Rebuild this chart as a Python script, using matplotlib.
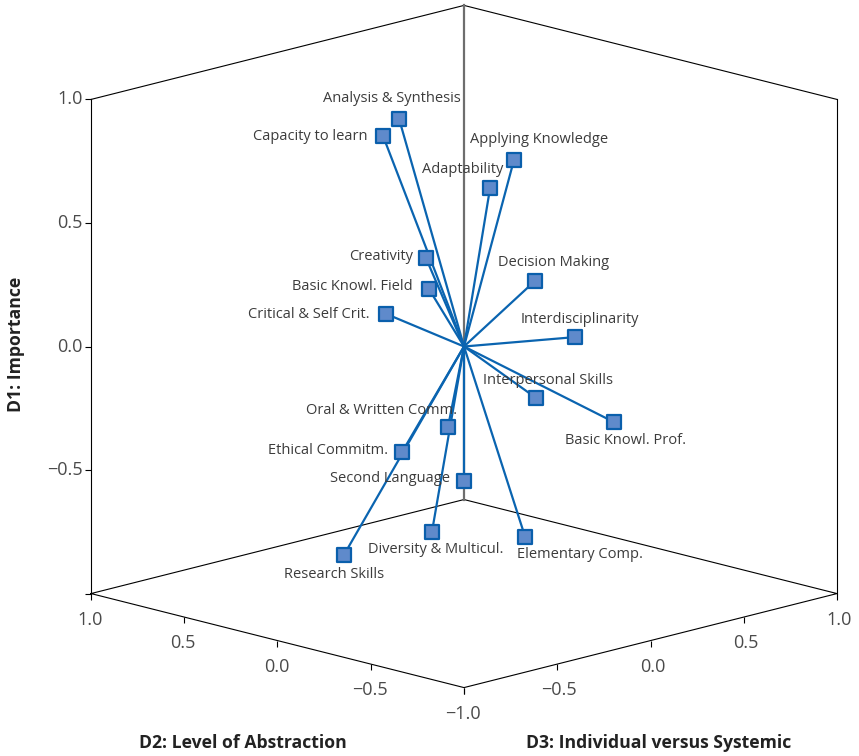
# 3D plot of competences on three dimensions (D1, D2, D3)

import numpy as np
import matplotlib.pyplot as plt
from matplotlib.markers import MarkerStyle, TICKLEFT, TICKDOWN
from mpl_toolkits.mplot3d import proj3d

# competence loadings
competences = ["Analysis & Synthesis", "Capacity to learn", "Applying Knowledge",
               "Adaptability", "Creativity", "Basic Knowl. Field",
               "Critical & Self Crit.", "Decision Making", "Interdisciplinarity",
               "Interpersonal Skills", "Basic Knowl. Prof.", "Oral & Written Comm.",
               "Ethical Commitm.", "Second Language", "Research Skills",
               "Diversity & Multicul.", "Elementary Comp."]
d1 = [0.902, 0.871, 0.717, 0.623, 0.301, 0.271, 0.132, 0.227, 0.000,
      -0.170, -0.306, -0.307, -0.465, -0.506, -0.882, -0.713, -0.733]
d2 = [0.224, 0.167, -0.034, -0.020, 0.252, -0.006, 0.209, -0.090, -0.198,
      -0.293, -0.402, -0.007, 0.266, -0.100, 0.422, -0.014, -0.264]
d3 = [-0.124, -0.267, 0.234, 0.120, 0.048, -0.194, -0.209, 0.290, 0.398,
      0.093, 0.402, -0.093, -0.066, -0.100, -0.222, -0.186, 0.064]

ticks = [1.0, 0.5, 0.0, -0.5, -1.0]
d1_ticklabels = ["1.0", "0.5", "0.0", "\u22120.5", ""]
d2_ticklabels = ["1.0", "0.5", "0.0", "\u22120.5", "\u22121.0"]
d3_ticklabels = ["1.0", "0.5", "0.0", "\u22120.5", ""]

# label placement: pixel offset from marker (right, down) and alignment
label_pos = {
    "Analysis & Synthesis": (-7, -20, "center"),
    "Capacity to learn": (-16, 0, "right"),
    "Applying Knowledge": (-44, -20, "left"),
    "Adaptability": (13, -18, "right"),
    "Creativity": (-13, -2, "right"),
    "Basic Knowl. Field": (-16, -2, "right"),
    "Critical & Self Crit.": (-16, 1, "right"),
    "Decision Making": (-37, -19, "left"),
    "Interdisciplinarity": (-55, -18, "left"),
    "Interpersonal Skills": (-53, -17, "left"),
    "Basic Knowl. Prof.": (-49, 18, "left"),
    "Oral & Written Comm.": (9, -17, "right"),
    "Ethical Commitm.": (-14, -1, "right"),
    "Second Language": (-14, -2, "right"),
    "Research Skills": (-60, 19, "left"),
    "Diversity & Multicul.": (-64, 17, "left"),
    "Elementary Comp.": (-8, 17, "left"),
}

plt.rcParams["font.family"] = "Open Sans"

W, H = 859, 756
fig = plt.figure(figsize=(W / 100, H / 100), dpi=100)
ax = fig.add_axes([0.1, 0.1, 0.8, 0.8 * W / H], projection="3d",
                  proj_type="ortho", computed_zorder=False)
ax.set_xlim(-1, 1)
ax.set_ylim(-1, 1)
ax.set_zlim(-1, 1)
ax.set_box_aspect((1, 1, 0.968))
ax.view_init(elev=14.6, azim=-135, roll=0)
ax.set_axis_off()

# x = D3, y = D2, z = D1
fig.canvas.draw()


def screen(x, y, z):
    px, py, _ = proj3d.proj_transform(np.asarray(x, float), np.asarray(y, float),
                                      np.asarray(z, float), ax.get_proj())
    return ax.transData.transform(np.column_stack([px, py]))


# fit the box into the figure: origin and floor width like the original
p = screen([0, -1, 1], [0, 1, -1], [0, -1, -1])
k = 746 / (p[2, 0] - p[1, 0])
pos = ax.get_position()
ox = (p[0, 0] / W - pos.x0) / pos.width
oy = (p[0, 1] / H - pos.y0) / pos.height
nw, nh = pos.width * k, pos.height * k
ax.set_position([464 / W - ox * nw, (H - 346.5) / H - oy * nh, nw, nh])
fig.canvas.draw()

# box
box_kw = dict(color="black", lw=0.8, zorder=1)
ax.plot([-1, 1, 1], [1, 1, -1], [1, 1, 1], **box_kw)
ax.plot([-1, 1, 1, -1, -1], [1, 1, -1, -1, 1], [-1, -1, -1, -1, -1], **box_kw)
ax.plot([-1, -1], [1, 1], [-1, 1], **box_kw)
ax.plot([1, 1], [-1, -1], [-1, 1], **box_kw)
ax.plot([1, 1], [1, 1], [-1, 1], color="#6e6e6e", lw=1.6, zorder=1)

# tick marks
n = len(ticks)
ax.plot([-1] * n, [1] * n, ticks, ls="none", marker=TICKLEFT, ms=4, mew=0.8,
        color="black", zorder=1)
ax.plot([-1] * n, ticks, [-1] * n, ls="none", marker=TICKDOWN, ms=4, mew=0.8,
        color="black", zorder=1)
ax.plot(ticks, [-1] * n, [-1] * n, ls="none", marker=TICKDOWN, ms=4, mew=0.8,
        color="black", zorder=1)


def label(text, xyz, dx, dy, ha, **kw):
    # text placed at the projected 3D point, shifted by (dx, dy) pixels (dy down)
    xy = screen(*[[v] for v in xyz])[0]
    ax.annotate(text, xy=xy, xycoords="figure pixels", xytext=(dx, -dy),
                textcoords="offset pixels", ha=ha, va="center", **kw)


tick_font = dict(fontsize=13, color="#4a4a4a")
for t, lab in zip(ticks, d1_ticklabels):
    if lab:
        label(lab, (-1, 1, t), -8, 0, "right", **tick_font)
for t, lab in zip(ticks, d2_ticklabels):
    if lab:
        label(lab, (-1, t, -1), -1, 26, "center", **tick_font)
for t, lab in zip(ticks, d3_ticklabels):
    if lab:
        label(lab, (t, -1, -1), 2, 26, "center", **tick_font)

# vectors from the origin
for a, b, c in zip(d1, d2, d3):
    ax.plot([0, c], [0, b], [0, a], color="#0a64b0", lw=1.6, zorder=2,
            solid_capstyle="round")
ax.plot(d3, d2, d1, ls="none", marker=MarkerStyle("s", joinstyle="round"),
        ms=9.5, mfc="#5f8acb", mec="#0a5fac", mew=1.6, zorder=3)

for name, a, b, c in zip(competences, d1, d2, d3):
    dx, dy, ha = label_pos[name]
    label(name, (c, b, a), dx, dy, ha, fontsize=10.5, color="#3c3c3c", zorder=4)

title_kw = dict(fontsize=12.7, fontweight="bold", color="#222222",
                ha="center", va="center")
fig.text(16 / W, 1 - 344 / H, "D1: Importance", rotation=90, **title_kw)
fig.text(242.5 / W, 1 - 743 / H, "D2: Level of Abstraction", **title_kw)
fig.text(659 / W, 1 - 743 / H, "D3: Individual versus Systemic", **title_kw)

fig.savefig("out.png", dpi=100)
